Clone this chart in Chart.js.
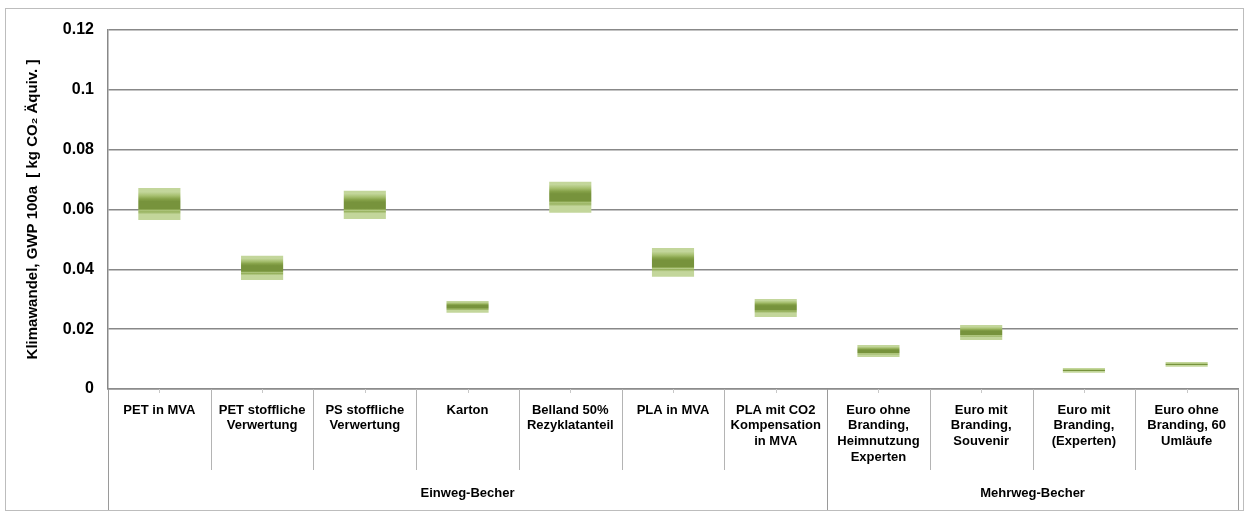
<!DOCTYPE html>
<html>
<head>
<meta charset="utf-8">
<script src="https://cdn.jsdelivr.net/npm/chart.js@4/dist/chart.umd.min.js"></script>
<style>
html,body{margin:0;padding:0;background:#fff;}
#wrap{width:1247px;height:515px;position:relative;}
</style>
</head>
<body>
<div id="wrap"><canvas id="c" width="1247" height="515"></canvas></div>
<script>
const categories = [
  "PET in MVA",
  ["PET stoffliche","Verwertung"],
  ["PS stoffliche","Verwertung"],
  "Karton",
  ["Belland 50%","Rezyklatanteil"],
  "PLA in MVA",
  ["PLA mit CO2","Kompensation","in MVA"],
  ["Euro ohne","Branding,","Heimnutzung","Experten"],
  ["Euro mit","Branding,","Souvenir"],
  ["Euro mit","Branding,","(Experten)"],
  ["Euro ohne","Branding, 60","Umläufe"]
];
const lowerValues = [0.0565, 0.0364, 0.0568, 0.0255, 0.0589, 0.0375, 0.0241, 0.0107, 0.0164, 0.0054, 0.0074];
const upperValues = [0.0672, 0.0445, 0.0663, 0.0294, 0.0693, 0.0471, 0.0301, 0.0147, 0.0214, 0.0070, 0.0090];
const midValues   = [0.0616, 0.0404, 0.0615, 0.0275, 0.0642, 0.0421, 0.0272, 0.0126, 0.0188, 0.0062, 0.0082];
const groupNames = ["Einweg-Becher", "Mehrweg-Becher"];
const groupSizes = [7, 4];
const yTickLabels = ["0", "0.02", "0.04", "0.06", "0.08", "0.1", "0.12"];
const yTitle = "Klimawandel, GWP 100a  [ kg CO\u2082 Äquiv. ]";

const LIGHT = '#c3d69b', DARK = '#77933c';
const FONT = "'Liberation Sans', Arial, sans-serif";

function barFill(ctx) {
  const chart = ctx.chart;
  const y = chart.scales.y;
  if (!y || !chart.chartArea || ctx.dataIndex == null) return LIGHT;
  const i = ctx.dataIndex;
  const top = y.getPixelForValue(upperValues[i]);
  const bot = y.getPixelForValue(lowerValues[i]);
  const mid = y.getPixelForValue(midValues[i]);
  if (!isFinite(top) || !isFinite(bot) || bot - top < 1) return LIGHT;
  const g = chart.ctx.createLinearGradient(0, top, 0, bot);
  const f = (mid - top) / (bot - top);
  const thin = (bot - top) < 8 ? 0.6 : 1;
  const cl = v => Math.min(1, Math.max(0, v));
  const stops = [
    [0, LIGHT],
    [f - 0.40 * thin, LIGHT],
    [f - 0.28 * thin, '#a6bf6f'],
    [f - 0.18 * thin, '#86a249'],
    [f - 0.10 * thin, DARK],
    [f + 0.12 * thin, DARK],
    [f + 0.16 * thin, '#93ae5a'],
    [f + 0.19 * thin, '#b5cb86'],
    [f + 0.22 * thin, '#95b05c'],
    [f + 0.30 * thin, LIGHT],
    [1, LIGHT]
  ];
  let last = 0;
  stops.forEach(([p, c]) => { let q = cl(p); if (q < last) q = last; g.addColorStop(q, c); last = q; });
  return g;
}

const decorPlugin = {
  id: 'decor',
  beforeDraw(chart) {
    const c = chart.ctx;
    c.save();
    c.fillStyle = '#fff';
    c.fillRect(0, 0, chart.width, chart.height);
    c.restore();
  },
  afterDraw(chart) {
    const c = chart.ctx;
    const x = chart.scales.x;
    const area = chart.chartArea;
    const n = categories.length;
    const w = (area.right - area.left) / n;
    c.save();
    const groupBounds = [0];
    let acc = 0;
    groupSizes.forEach(s => { acc += s; groupBounds.push(acc); });
    c.lineWidth = 1;
    for (let i = 0; i <= n; i++) {
      const px = Math.round(x.getPixelForValue(i) - w / 2) + 0.5;
      const isGroup = groupBounds.includes(i);
      c.strokeStyle = isGroup ? '#9a9a9a' : '#b4b4b4';
      c.beginPath();
      c.moveTo(px, area.bottom);
      c.lineTo(px, isGroup ? 510 : 470);
      c.stroke();
    }
    c.strokeStyle = '#c8c8c8';
    for (let i = 0; i < n; i++) {
      const px = Math.round(x.getPixelForValue(i)) + 0.5;
      c.beginPath();
      c.moveTo(px, area.bottom);
      c.lineTo(px, area.bottom + 4);
      c.stroke();
    }
    c.fillStyle = '#000';
    c.font = "bold 13px " + FONT;
    c.textAlign = 'center';
    c.textBaseline = 'middle';
    let start = 0;
    groupSizes.forEach((s, gi) => {
      const cx = (x.getPixelForValue(start) + x.getPixelForValue(start + s - 1)) / 2;
      c.fillText(groupNames[gi], cx, 493);
      start += s;
    });
    c.strokeStyle = '#bdbdbd';
    c.strokeRect(5.5, 8.5, 1238, 502);
    c.restore();
  }
};

new Chart(document.getElementById('c'), {
  type: 'bar',
  data: {
    labels: categories,
    datasets: [{
      data: lowerValues.map((v, i) => [v, upperValues[i]]),
      backgroundColor: barFill,
      borderWidth: 0,
      barPercentage: 0.41,
      categoryPercentage: 1.0
    }]
  },
  options: {
    responsive: false,
    animation: false,
    devicePixelRatio: 1,
    layout: { padding: { left: 0, top: 30, right: 9, bottom: 0 } },
    plugins: { legend: { display: false }, tooltip: { enabled: false } },
    scales: {
      x: {
        grid: { display: false },
        border: { color: '#8c8c8c', width: 1.5 },
        ticks: {
          color: '#000',
          font: { family: FONT, size: 13, weight: 'bold', lineHeight: 1.22 },
          maxRotation: 0, minRotation: 0, autoSkip: false,
          padding: 5
        },
        afterFit(s) { s.height = 126; }
      },
      y: {
        min: 0, max: 0.12,
        grid: { color: '#888888', lineWidth: 1.5, drawTicks: false },
        border: { color: '#888888', width: 1.5 },
        ticks: {
          stepSize: 0.02,
          color: '#000',
          padding: 14,
          font: { family: FONT, size: 16, weight: 'bold' },
          callback: (v, i) => yTickLabels[i]
        },
        title: {
          display: true,
          text: yTitle,
          color: '#000',
          font: { family: FONT, size: 15, weight: 'bold' },
          padding: { top: 24, bottom: 0 }
        },
        afterFit(s) { s.width = 108; }
      }
    }
  },
  plugins: [decorPlugin]
});
</script>
</body>
</html>
